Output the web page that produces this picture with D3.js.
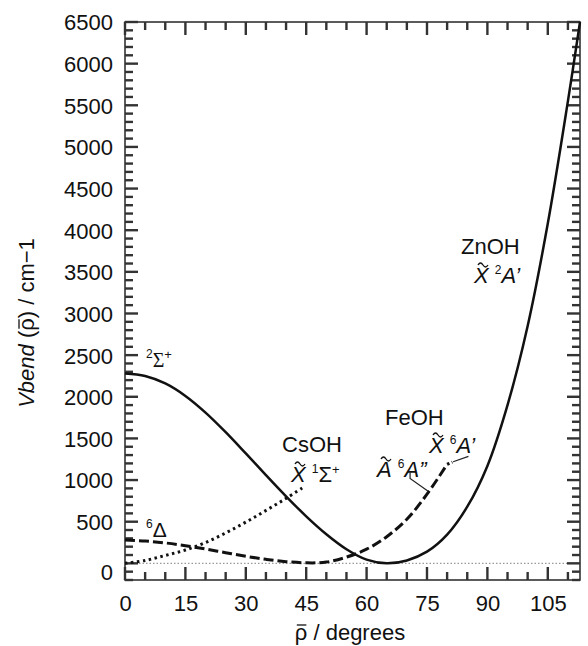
<!DOCTYPE html>
<html>
<head>
<meta charset="utf-8">
<script src="https://cdn.jsdelivr.net/npm/d3@7"></script>
<style>
  body { margin: 0; background: #fff; }
  text { font-family: "Liberation Sans", Arial, sans-serif; fill: #111; }
</style>
</head>
<body>
<svg id="chart" width="588" height="646"></svg>
<script>
// tick labels
const xTicks = [0, 15, 30, 45, 60, 75, 90, 105];
const yTicks = [0, 500, 1000, 1500, 2000, 2500, 3000, 3500, 4000, 4500, 5000, 5500, 6000, 6500];

// ZnOH (solid): 2Sigma+ linear -> X 2A' bent
const znohRho = [0, 5, 10, 15, 20, 25, 30, 35, 40, 45, 50, 55, 60, 65, 70, 75, 80, 85, 90, 95, 100, 105, 110, 113];
const znohV   = [2280, 2250, 2160, 2010, 1810, 1575, 1320, 1060, 805, 565, 350, 170, 45, 0, 35, 140, 345, 680, 1170, 1900, 2850, 4080, 5550, 6500];

// CsOH (dotted): X 1Sigma+
const csohRho = [0, 5, 10, 15, 20, 25, 30, 35, 40, 44.5];
const csohV   = [0, 35, 95, 160, 250, 365, 495, 635, 780, 920];

// FeOH (dashed): 6Delta -> A 6A''
const feohRho = [0, 5, 10, 15, 20, 25, 30, 35, 40, 45, 50, 55, 60, 65, 70, 75, 80];
const feohV   = [280, 268, 245, 212, 172, 128, 85, 48, 20, 6, 15, 75, 170, 320, 530, 830, 1190];

// FeOH X 6A' tail (dotted)
const feohXRho = [80, 81.3];
const feohXV   = [1190, 1215];

const svg = d3.select("#chart");
const box = { left: 125, right: 580, top: 22, bottom: 580 };
const fs = 22;

const x = d3.scaleLinear().domain([0, 113]).range([box.left, box.right]);
const y = d3.scaleLinear().domain([-200, 6500]).range([box.bottom, box.top]);

const pts = (a, b) => a.map((d, i) => [d, b[i]]);
const line = d3.line()
  .x(d => x(d[0]))
  .y(d => y(d[1]))
  .curve(d3.curveCatmullRom.alpha(0.5));

// zero line
svg.append("line")
  .attr("x1", box.left).attr("x2", box.right)
  .attr("y1", y(0)).attr("y2", y(0))
  .attr("stroke", "#999")
  .attr("stroke-width", 1.2)
  .attr("stroke-dasharray", "1.5,2");

// frame
svg.append("rect")
  .attr("x", box.left).attr("y", box.top)
  .attr("width", box.right - box.left).attr("height", box.bottom - box.top)
  .attr("fill", "none")
  .attr("stroke", "#333")
  .attr("stroke-width", 1.6);

// ticks (inward, all four sides)
const xMinor = d3.range(0, 113, 5).filter(v => v % 15 !== 0);
const yMinor = d3.range(-200, 6501, 100).filter(v => v % 500 !== 0);
const yMajor = d3.range(0, 6501, 500);

const tickData = [];
xTicks.forEach(v => {
  tickData.push([x(v), box.bottom, x(v), box.bottom - 13]);
  tickData.push([x(v), box.top, x(v), box.top + 13]);
});
xMinor.forEach(v => {
  tickData.push([x(v), box.bottom, x(v), box.bottom - 8]);
  tickData.push([x(v), box.top, x(v), box.top + 8]);
});
yMajor.forEach(v => {
  tickData.push([box.left, y(v), box.left + 13, y(v)]);
  tickData.push([box.right, y(v), box.right - 13, y(v)]);
});
yMinor.forEach(v => {
  tickData.push([box.left, y(v), box.left + 8, y(v)]);
  tickData.push([box.right, y(v), box.right - 8, y(v)]);
});

svg.append("g")
  .selectAll("line")
  .data(tickData)
  .enter()
  .append("line")
  .attr("x1", d => d[0])
  .attr("y1", d => d[1])
  .attr("x2", d => d[2])
  .attr("y2", d => d[3])
  .style("stroke", "#333")
  .style("stroke-width", "2.4px");

// axes labels
const xAxis = d3.axisBottom(x).tickValues(xTicks).tickSize(0).tickPadding(15).tickFormat(d3.format("d"));
svg.append("g")
  .attr("transform", `translate(0,${box.bottom})`)
  .call(xAxis)
  .call(g => g.select(".domain").remove())
  .selectAll("text")
  .attr("font-size", fs)
  .attr("font-family", "Liberation Sans, Arial, sans-serif")
  .attr("fill", "#111");

const yAxis = d3.axisLeft(y).tickValues(yTicks).tickSize(0).tickPadding(12).tickFormat(d3.format("d"));
svg.append("g")
  .attr("transform", `translate(${box.left},0)`)
  .call(yAxis)
  .call(g => g.select(".domain").remove())
  .selectAll("text")
  .attr("font-size", fs)
  .attr("font-family", "Liberation Sans, Arial, sans-serif")
  .attr("fill", "#111")
  .attr("dy", d => d === 0 ? "0.75em" : "0.36em");

// macron over one char of a text node
function macron(textSel, parent, idx) {
  const node = textSel.node();
  const p = node.getStartPositionOfChar(idx);
  const w = node.getSubStringLength(idx, 1);
  parent.append("line")
    .attr("x1", p.x + 2).attr("x2", p.x + w - 1)
    .attr("y1", p.y - 15).attr("y2", p.y - 15)
    .attr("stroke", "#111").attr("stroke-width", 1.3);
}

// axis titles
const xt = svg.append("text")
  .attr("x", 350).attr("y", 640)
  .attr("text-anchor", "middle")
  .attr("font-size", fs)
  .text("\u03C1 / degrees");
macron(xt, svg, 0);

const ytG = svg.append("g").attr("transform", "translate(34,323) rotate(-90)");
const yt = ytG.append("text")
  .attr("text-anchor", "middle")
  .attr("font-size", fs);
yt.append("tspan").attr("font-style", "italic").text("Vbend");
yt.append("tspan").text(" (\u03C1) / cm\u22121");
macron(yt, ytG, 7);

// curves
svg.append("path")
  .datum(pts(csohRho, csohV))
  .attr("d", line)
  .attr("fill", "none")
  .attr("stroke", "#111")
  .attr("stroke-width", 3)
  .attr("stroke-dasharray", "2.5,3.5");

svg.append("path")
  .datum(pts(feohRho, feohV))
  .attr("d", line)
  .attr("fill", "none")
  .attr("stroke", "#111")
  .attr("stroke-width", 3)
  .attr("stroke-dasharray", "10,4");

svg.append("path")
  .datum(pts(feohXRho, feohXV))
  .attr("d", line)
  .attr("fill", "none")
  .attr("stroke", "#111")
  .attr("stroke-width", 3)
  .attr("stroke-dasharray", "2.5,2.5");

svg.append("path")
  .datum(pts(znohRho, znohV))
  .attr("d", line)
  .attr("fill", "none")
  .attr("stroke", "#111")
  .attr("stroke-width", 2.5);

// leader lines
const leader = d3.line().x(d => x(d[0])).y(d => y(d[1]));
svg.append("path")
  .datum([[81.5, 1220], [85.3, 1285]])
  .attr("d", leader)
  .attr("fill", "none").attr("stroke", "#222").attr("stroke-width", 1.2);
svg.append("path")
  .datum([[70.8, 1090], [70.8, 1020], [75.2, 870]])
  .attr("d", leader)
  .attr("fill", "none").attr("stroke", "#222").attr("stroke-width", 1.2);

// small wavy tilde drawn as a path
function tildeMark(cx, cy) {
  svg.append("path")
    .attr("d", `M${cx - 5},${cy + 1} q2.5,-4 5,0 t5,0`)
    .attr("fill", "none")
    .attr("stroke", "#111")
    .attr("stroke-width", 1.3);
}

// state label helper
function stateLabel(px, py, sup, rest, opts) {
  const o = opts || {};
  const t = svg.append("text")
    .attr("x", px).attr("y", py)
    .attr("font-size", o.size || fs);
  if (o.tilde) {
    t.append("tspan").attr("font-style", "italic").text(o.tilde);
    t.append("tspan").text(" ");
    tildeMark(px + 9, py - 19);
  }
  t.append("tspan").attr("font-size", 12).attr("dy", -9).text(sup);
  t.append("tspan").attr("dy", 9)
    .attr("font-style", o.italic ? "italic" : "normal")
    .attr("font-family", o.serif ? "Liberation Serif, serif" : null)
    .text(rest);
  if (o.sup2) {
    t.append("tspan").attr("font-size", 13).attr("dy", -8).text(o.sup2);
  }
  return t;
}

// molecule names
svg.append("text").attr("x", 282).attr("y", 452).attr("font-size", fs).text("CsOH");
svg.append("text").attr("x", 385).attr("y", 425).attr("font-size", fs).text("FeOH");
svg.append("text").attr("x", 461).attr("y", 254).attr("font-size", fs).text("ZnOH");

// states
stateLabel(146, 367, "2", "\u03A3", { serif: true, sup2: "+", size: 20 });
stateLabel(146, 537, "6", "\u0394", { size: 21 });
stateLabel(291, 482, "1", "\u03A3", { tilde: "X", sup2: "+" });
stateLabel(377, 477, "6", "A\u201D", { tilde: "A", italic: true });
stateLabel(429, 453, "6", "A\u2019", { tilde: "X", italic: true });
stateLabel(474, 283, "2", "A\u2019", { tilde: "X", italic: true });
</script>
</body>
</html>
